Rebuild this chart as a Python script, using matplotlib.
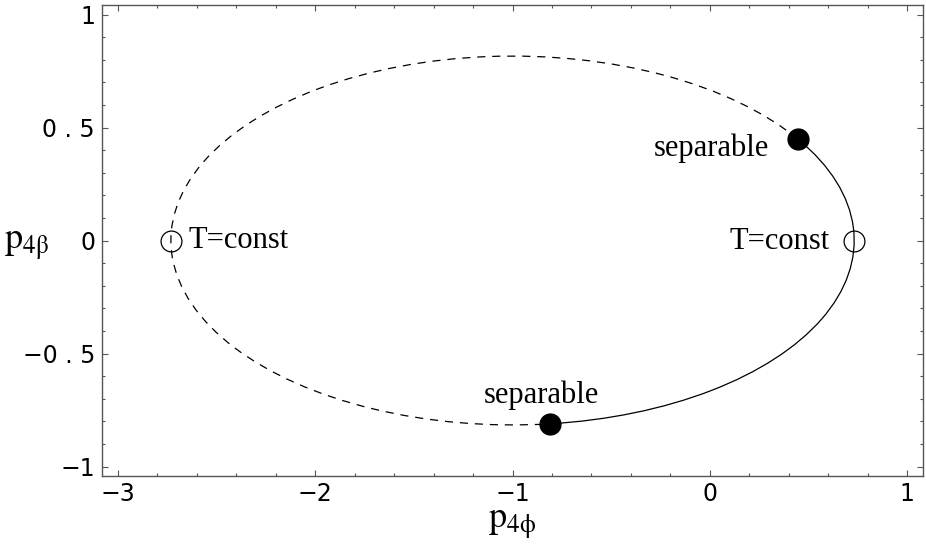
import numpy as np
import matplotlib.pyplot as plt
from matplotlib.patches import Arc
from matplotlib.ticker import MultipleLocator

plt.rcParams['mathtext.fontset'] = 'stix'

# ellipse
center = (-1.0, 0.0)
semi_x = 1.732
semi_y = 0.816

# marked points
const_x = [-2.732, 0.732]
const_y = [0.0, 0.0]
sep_x = [0.448, -0.812]
sep_y = [0.448, -0.812]

xticks = [-3, -2, -1, 0, 1]
yticks = [-1, -0.5, 0, 0.5, 1]
yticklabels = ['\u22121', '\u22120 . 5', '0', '0 . 5', '1']
xticklabels = ['\u22123', '\u22122', '\u22121', '0', '1']

fig = plt.figure(figsize=(9.26, 5.45), dpi=100)
ax = fig.add_axes([0.1102, 0.1266, 0.8866, 0.8642])

# angles of the separable points seen from the centre
ang = np.degrees(np.arctan2(np.array(sep_y) - center[1], np.array(sep_x) - center[0]))
a_top, a_bot = ang[0], ang[1] % 360

ax.plot(const_x, const_y, 'o', ms=15, mfc='white', mec='black', mew=0.9, zorder=2)

solid = Arc(center, 2 * semi_x, 2 * semi_y, theta1=a_bot, theta2=360 + a_top,
            color='black', lw=0.9, zorder=3)
dashed = Arc(center, 2 * semi_x, 2 * semi_y, theta1=a_top, theta2=a_bot,
             color='black', lw=0.9, ls=(0, (6.5, 5.5)), zorder=3)
ax.add_patch(solid)
ax.add_patch(dashed)

ax.plot(sep_x, sep_y, 'o', ms=15, mfc='black', mec='black', zorder=4)

serif = dict(family='Liberation Serif', fontsize=22)
ax.annotate('separable', xy=(sep_x[0], sep_y[0]), xytext=(-21, -6.5),
            textcoords='offset points', ha='right', va='center', **serif)
ax.annotate('separable', xy=(sep_x[1], sep_y[1]), xytext=(-6, 21),
            textcoords='offset points', ha='center', va='center', **serif)
ax.annotate('T=const', xy=(const_x[0], const_y[0]), xytext=(13, 0),
            textcoords='offset points', ha='left', va='center', **serif)
ax.annotate('T=const', xy=(const_x[1], const_y[1]), xytext=(-18, -1),
            textcoords='offset points', ha='right', va='center', **serif)

ax.set_xlim(-3.081, 1.081)
ax.set_ylim(-1.042, 1.042)
ax.set_xticks(xticks)
ax.set_xticklabels(xticklabels)
ax.set_yticks(yticks)
ax.set_yticklabels(yticklabels)
ax.xaxis.set_minor_locator(MultipleLocator(0.2))
ax.yaxis.set_minor_locator(MultipleLocator(0.1))

frame = '#555555'
for s in ax.spines.values():
    s.set_color(frame)
    s.set_linewidth(1.0)
ax.tick_params(which='both', direction='in', top=True, right=True,
               color=frame, width=0.8, labelsize=17)
ax.tick_params(which='major', length=4.5)
ax.tick_params(which='minor', length=2.5)
ax.tick_params(axis='x', pad=4)
ax.tick_params(axis='y', pad=5)

ax.set_xlabel(r'$\mathrm{p_{4\phi}}$', fontsize=26, labelpad=1)
ax.set_ylabel(r'$\mathrm{p_{4\beta}}$', fontsize=26, rotation=0, ha='center', va='center')
ax.yaxis.set_label_coords(-0.092, 0.49)

fig.savefig('out.png', dpi=100)
